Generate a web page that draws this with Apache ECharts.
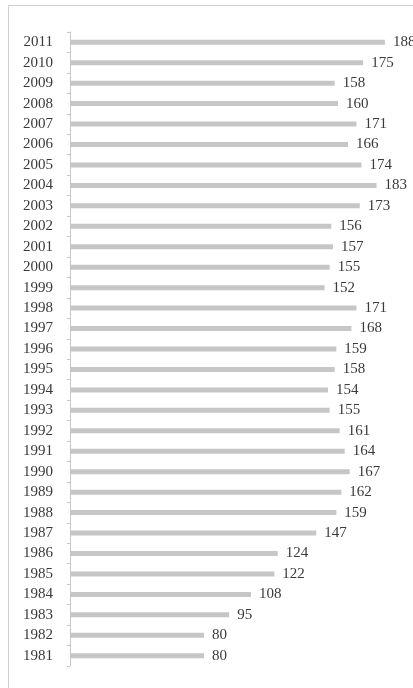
<!DOCTYPE html>
<html>
<head>
<meta charset="utf-8">
<script src="https://cdn.jsdelivr.net/npm/echarts@6/dist/echarts.min.js"></script>
<style>
  html, body { margin: 0; padding: 0; background: #fff; }
  #chart { width: 413px; height: 688px; }
</style>
</head>
<body>
<div id="chart"></div>
<script>
// years bottom -> top (category axis draws the first item at the bottom)
const years = ["1981","1982","1983","1984","1985","1986","1987","1988","1989","1990",
  "1991","1992","1993","1994","1995","1996","1997","1998","1999","2000",
  "2001","2002","2003","2004","2005","2006","2007","2008","2009","2010","2011"];
const values = [80, 80, 95, 108, 122, 124, 147, 159, 162, 167,
  164, 161, 155, 154, 158, 159, 168, 171, 152, 155,
  157, 156, 173, 183, 174, 166, 171, 160, 158, 175, 188];

const chart = echarts.init(document.getElementById("chart"));
const textColor = "#3a3a3a";
const font = "'Liberation Serif', 'DejaVu Serif', serif";

chart.setOption({
  animation: false,
  // frame around the picture (right/bottom run off the edge)
  graphic: [{
    type: "rect",
    shape: { x: 8.5, y: 5.5, width: 420, height: 700 },
    style: { fill: "none", stroke: "#cfcfcf", lineWidth: 1 }
  }],
  grid: { left: 70, right: 8, top: 32, bottom: 22 },
  xAxis: {
    type: "value",
    min: 0,
    max: 200,
    show: false
  },
  yAxis: {
    type: "category",
    data: years,
    axisLine: { lineStyle: { color: "#c8c8c8" } },
    axisTick: { show: true, length: 3, lineStyle: { color: "#c8c8c8" } },
    axisLabel: { color: textColor, fontFamily: font, fontSize: 15, margin: 17 }
  },
  series: [{
    type: "bar",
    data: values,
    barWidth: 5,
    itemStyle: { color: "#c6c6c6" },
    label: {
      show: true,
      position: "right",
      distance: 8,
      color: textColor,
      fontFamily: font,
      fontSize: 15
    }
  }]
});
</script>
</body>
</html>
